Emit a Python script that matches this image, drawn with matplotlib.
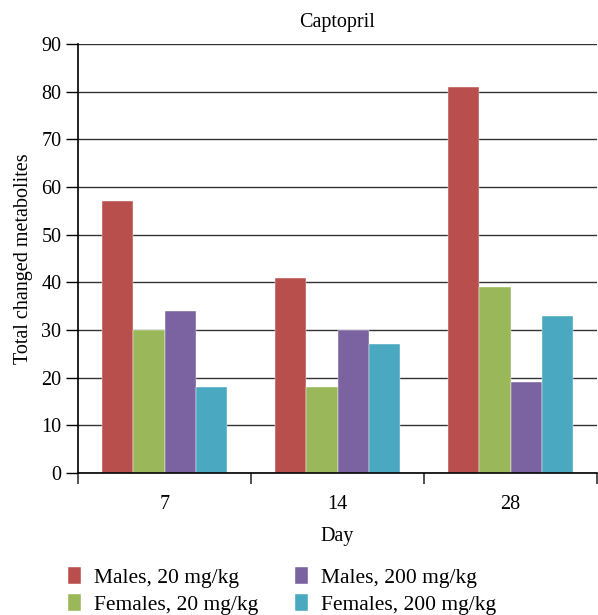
import numpy as np
import matplotlib.pyplot as plt

plt.rcParams["font.family"] = ["Liberation Serif", "DejaVu Serif"]

days = ["7", "14", "28"]
series_names = ["Males, 20 mg/kg", "Females, 20 mg/kg", "Males, 200 mg/kg", "Females, 200 mg/kg"]
males_20 = [57, 41, 81]
females_20 = [30, 18, 39]
males_200 = [34, 30, 19]
females_200 = [18, 27, 33]
colors = ["#b94f4d", "#9ab75a", "#7b62a0", "#4aa8c0"]

values = [males_20, females_20, males_200, females_200]

fig = plt.figure(figsize=(5.98, 6.15), dpi=100)
ax = fig.add_axes([78 / 598, 142 / 615, 519 / 598, 429 / 615])

x = np.arange(len(days))
w = 0.182
for i, (vals, name, c) in enumerate(zip(values, series_names, colors)):
    ax.bar(x + (i - 1.5) * w, vals, width=w, color=c, label=name, zorder=3,
           edgecolor="white", linewidth=0.3)

ax.set_xlim(-0.5, 2.5)
ax.set_ylim(0, 90)
ax.set_yticks(range(0, 91, 10))
ax.set_xticks(x)
ax.set_xticklabels(days)
ax.set_xticks([-0.5, 0.5, 1.5, 2.5], minor=True)
ax.tick_params(axis="x", which="major", length=0, pad=16, labelsize=14.5)
ax.tick_params(axis="x", which="minor", length=8, width=1.2, direction="out", color="#333333")
ax.tick_params(axis="y", length=9, width=1.0, direction="out", labelsize=14.5, pad=3)
ax.yaxis.grid(True, color="#333333", linewidth=1.0, zorder=0)

for s in ["top", "right"]:
    ax.spines[s].set_visible(False)
ax.spines["left"].set_linewidth(1.2)
ax.spines["bottom"].set_linewidth(1.2)
ax.spines["left"].set_zorder(4)
ax.spines["bottom"].set_zorder(4)

ax.set_title("Captopril", fontsize=14.5, pad=12)
ax.set_xlabel("Day", fontsize=14.5, labelpad=9)
ax.set_ylabel("Total changed metabolites", fontsize=14.5, labelpad=6)

fig.legend(loc="lower left", bbox_to_anchor=(68 / 598, 0.0), ncol=2, frameon=False,
           fontsize=15.5, borderpad=0, borderaxespad=0, handlelength=0.62,
           handleheight=0.8, handletextpad=0.6, columnspacing=1.7, labelspacing=0.3)

fig.savefig("out.png", dpi=100)
